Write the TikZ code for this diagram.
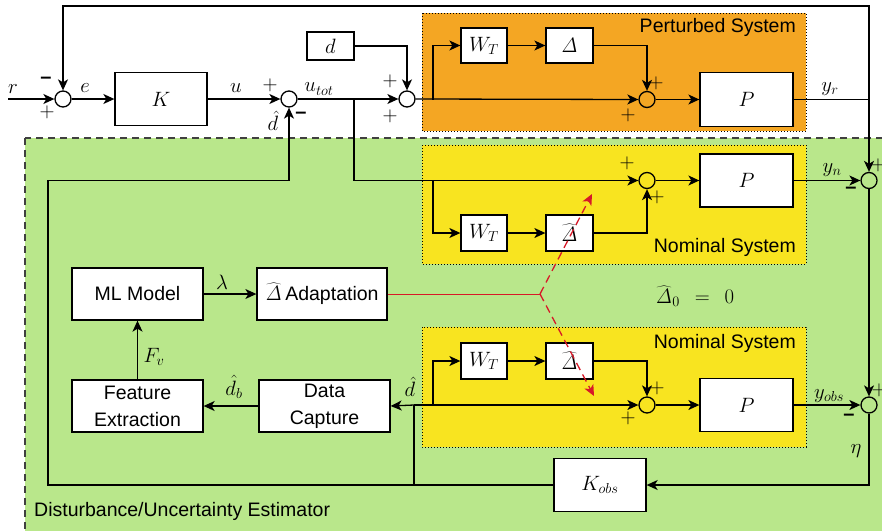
\documentclass[tikz,border=0pt]{standalone}
\usepackage[no-math]{fontspec}
\newfontfamily\arialf{Liberation Sans}
\usetikzlibrary{arrows.meta,calc}
\definecolor{orangebg}{RGB}{244,166,35}
\definecolor{yellowbg}{RGB}{248,228,32}
\definecolor{greenbg}{RGB}{185,231,139}
\definecolor{redarr}{RGB}{215,25,40}
\newcommand\myMath{\fontsize{22}{26}\selectfont}
\newcommand\mySans{\arialf\fontsize{19.5}{27}\selectfont}
\newcommand\mySign{\fontsize{20}{20}\selectfont}
\begin{document}
\begin{tikzpicture}[x=1pt,y=-1pt,
  sig/.style={line width=1.3pt},
  arr/.style={-{Stealth[length=11pt,width=10pt,inset=3pt]}},
  blk/.style={draw, fill=white, line width=1.3pt, inner sep=0pt, font=\myMath},
  sblk/.style={draw, fill=white, line width=1.3pt, inner sep=0pt, font=\mySans, align=center},
  sumn/.style={circle, draw, line width=1.3pt, minimum size=16pt, inner sep=0pt},
  lbl/.style={inner sep=0pt, font=\myMath},
  sgn/.style={inner sep=0pt, font=\mySign},
  ttl/.style={inner sep=0pt, font=\mySans},
  region/.style={dotted, line width=1pt}
]
\useasboundingbox (0,0) rectangle (882,530);
\begin{scope}
\clip (0,0) rectangle (882,530);
\fill[white] (0,0) rectangle (882,530);
\draw[fill=greenbg, dash pattern=on 7pt off 5pt, line width=1.3pt, draw=black!75] (25,138) rectangle (900,550);
\end{scope}
\draw[region, fill=orangebg] (422,13) rectangle (806,131);
\draw[region, fill=yellowbg] (422,145) rectangle (806,264);
\draw[region, fill=yellowbg] (422,327) rectangle (806,447);

% titles
\node[ttl, anchor=east] (tPert) at (796,27) {Perturbed System};
\node[ttl, anchor=east] (tNom1) at (796,247) {Nominal System};
\node[ttl, anchor=east] (tNom2) at (796,343) {Nominal System};
\node[ttl, anchor=west] (tEst) at (34,511) {Disturbance/Uncertainty Estimator};

% blocks
\node[blk, minimum width=92pt, minimum height=53pt] (K) at (161,99) {$K$};
\node[blk, minimum width=47pt, minimum height=28pt] (dbox) at (330.5,46) {$d$};
\node[blk, minimum width=46pt, minimum height=35pt] (WT1) at (484,45.5) {$W_T$};
\node[blk, minimum width=47pt, minimum height=35pt] (D1) at (569.5,45.5) {$\mathit{\Delta}$};
\node[blk, minimum width=93pt, minimum height=54pt] (P1) at (746.5,99.5) {$P$};
\node[blk, minimum width=46pt, minimum height=36pt] (WT2) at (484,233) {$W_T$};
\node[blk, minimum width=47pt, minimum height=36pt] (D2) at (569.5,233) {$\widehat{\mathit{\Delta}}$};
\node[blk, minimum width=93pt, minimum height=53pt] (P2) at (746.5,180.5) {$P$};
\node[blk, minimum width=46pt, minimum height=36pt] (WT3) at (484,361) {$W_T$};
\node[blk, minimum width=47pt, minimum height=36pt] (D3) at (569.5,361) {$\widehat{\mathit{\Delta}}$};
\node[blk, minimum width=93pt, minimum height=53pt] (P3) at (746.5,405) {$P$};
\node[sblk, minimum width=131pt, minimum height=52pt] (ML) at (137.5,294) {ML Model};
\node[sblk, minimum width=130pt, minimum height=52pt] (Adapt) at (322,294) {{\myMath$\widehat{\mathit{\Delta}}$}\,Adaptation};
\node[sblk, minimum width=131pt, minimum height=52pt] (FE) at (137.5,406) {Feature\\Extraction};
\node[sblk, minimum width=131pt, minimum height=52pt] (DC) at (324.5,406) {Data\\Capture};
\node[blk, minimum width=92pt, minimum height=53pt] (Kobs) at (600,485) {$K_{obs}$};

% summing junctions
\node[sumn] (s1) at (63,99) {};
\node[sumn] (s2) at (289,99) {};
\node[sumn] (s3) at (407,99) {};
\node[sumn] (s4) at (647,99.5) {};
\node[sumn] (s5) at (647,180.5) {};
\node[sumn] (s6) at (647,405) {};
\node[sumn] (sn) at (869,180.5) {};
\node[sumn] (so) at (869,405) {};

% coordinates
\coordinate (rin) at (8,99);
\coordinate (b1) at (433,99.5);
\coordinate (yr) at (869,99.5);
\coordinate (tr) at (869,6);
\coordinate (tl) at (63,6);
\coordinate (ub) at (354,99);
\coordinate (ub2) at (354,180.5);
\coordinate (b2) at (433,180.5);
\coordinate (ob) at (869,485);
\coordinate (kj) at (414,485);
\coordinate (ll) at (48,485);
\coordinate (lt) at (48,180.5);
\coordinate (dj) at (289,180.5);
\coordinate (dh) at (414,405);
\coordinate (b3) at (433,405);
\coordinate (fork) at (540,294);
\coordinate (rt1) at (592,194);
\coordinate (rt2) at (594,396);

% connectors
\draw[sig,arr] (rin) -- (s1);
\draw[sig,arr] (s1) -- (K);
\draw[sig,arr] (K) -- (s2);
\draw[sig,arr] (s2) -- (s3);
\draw[sig,arr] (dbox.east) -| (s3.north);
\draw[sig,arr] (s3.east) -- (s4.west);
\draw[sig,arr] (b1) |- (WT1.west);
\draw[sig,arr] (WT1) -- (D1);
\draw[sig,arr] (D1.east) -| (s4.north);
\draw[sig,arr] (s4) -- (P1);
\draw[sig] (P1.east) -- (yr);
\draw[sig,arr] (yr) -- (tr) -- (tl) -- (s1.north);
\draw[sig,arr] (yr) -- (sn.north);
\draw[sig,arr] (ub) -- (ub2) -- (s5.west);
\draw[sig,arr] (b2) |- (WT2.west);
\draw[sig,arr] (WT2) -- (D2);
\draw[sig,arr] (D2.east) -| (s5.south);
\draw[sig,arr] (s5) -- (P2);
\draw[sig,arr] (P2) -- (sn);
\draw[sig,arr] (sn) -- (so);
\draw[sig,arr] (so.south) -- (ob) -- (Kobs.east);
\draw[sig,arr] (Kobs.west) -- (kj) -- (ll) -- (lt) -- (dj) -- (s2.south);
\draw[sig] (kj) -- (dh);
\draw[sig,arr] (dh) -- (DC.east);
\draw[sig,arr] (dh) -- (s6.west);
\draw[sig,arr] (b3) |- (WT3.west);
\draw[sig,arr] (WT3) -- (D3);
\draw[sig,arr] (D3.east) -| (s6.north);
\draw[sig,arr] (s6) -- (P3);
\draw[sig,arr] (P3) -- (so);
\draw[sig,arr] (DC) -- (FE);
\draw[sig,arr] (FE) -- (ML);
\draw[sig,arr] (ML) -- (Adapt);
\draw[redarr, line width=0.9pt] (Adapt.east) -- (fork);
\draw[redarr, line width=1.3pt, dash pattern=on 8pt off 5pt, arr] (fork) -- (rt1);
\draw[redarr, line width=1.3pt, dash pattern=on 8pt off 5pt, arr] (fork) -- (rt2);

% labels
\node[lbl] (lr) at (13,89) {$r$};
\node[lbl] (le) at (85,88) {$e$};
\node[lbl] (lu) at (236,88) {$u$};
\node[lbl] (lutot) at (319,89) {$u_{tot}$};
\node[lbl] (ldh1) at (273,121) {$\hat{d}$};
\node[lbl] (lyr) at (830,89) {$y_r$};
\node[lbl] (lyn) at (832,170) {$y_n$};
\node[lbl] (lyobs) at (829,396) {$y_{obs}$};
\node[lbl] (leta) at (856,451) {$\eta$};
\node[lbl] (llam) at (222,282) {$\lambda$};
\node[lbl] (lFv) at (154,357) {$F_v$};
\node[lbl] (ldb) at (234,387) {$\hat{d}_b$};
\node[lbl] (ldh2) at (410,387) {$\hat{d}$};
\node[lbl] (ldel0) at (695,296) {$\widehat{\mathit{\Delta}}_0\;\,=\;\,0$};

% signs
\node[sgn] (m1) at (46,80) {\arialf\bfseries –};
\node[sgn] (p1) at (47,112) {$+$};
\node[sgn] (p2) at (270,85) {$+$};
\node[sgn] (m2) at (301,115) {\arialf\bfseries –};
\node[sgn] (p3) at (390,81) {$+$};
\node[sgn] (p4) at (390,116) {$+$};
\node[sgn] (p5) at (656,83) {$+$};
\node[sgn] (p6) at (628,115) {$+$};
\node[sgn] (p7) at (627,163) {$+$};
\node[sgn] (p8) at (657,197) {$+$};
\node[sgn] (p9) at (878,165) {$+$};
\node[sgn] (m3) at (851,190) {\arialf\bfseries –};
\node[sgn] (p10) at (657,388) {$+$};
\node[sgn] (p11) at (628,418) {$+$};
\node[sgn] (p12) at (879,390) {$+$};
\node[sgn] (m4) at (849,417) {\arialf\bfseries –};
\end{tikzpicture}
\end{document}
